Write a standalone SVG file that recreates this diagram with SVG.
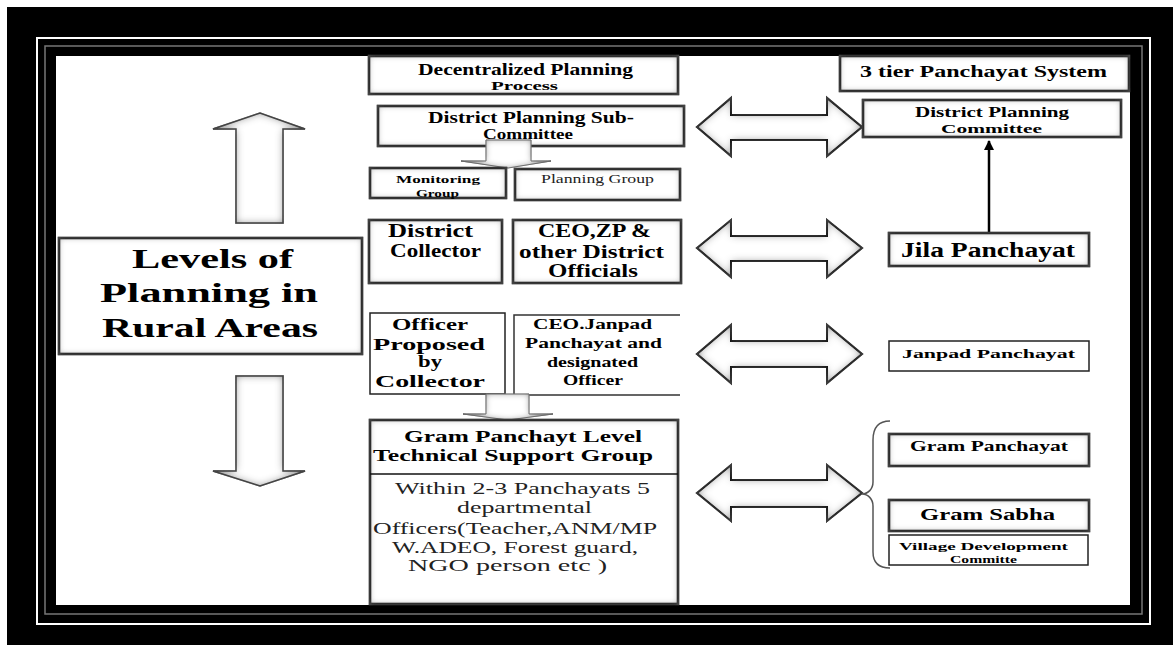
<svg xmlns="http://www.w3.org/2000/svg" width="1173" height="645" viewBox="0 0 1173 645">
<defs>
<style>
.bx{stroke:#000;stroke-width:2.5;fill:#fff;filter:url(#inset)}
.thin{stroke:#222;stroke-width:1.5;fill:#fff}
.t{font-family:"Liberation Serif","Times New Roman",serif;font-weight:bold;fill:#000}
.r{font-weight:normal;fill:#222}
.dbl{fill:#fff;stroke:#000;stroke-width:2;filter:url(#insetA)}
.vert{fill:#fff;stroke:#444;stroke-width:1.5;filter:url(#insetA)}
.sm{fill:#fff;stroke:#777;stroke-width:1;filter:url(#insetS)}
</style>
<filter id="inset" x="-0.1" y="-0.2" width="1.2" height="1.4">
<feFlood flood-color="#555"/>
<feComposite in2="SourceAlpha" operator="out"/>
<feGaussianBlur stdDeviation="3.5"/>
<feComposite in2="SourceAlpha" operator="in" result="glow"/>
<feMerge><feMergeNode in="SourceGraphic"/><feMergeNode in="glow"/></feMerge>
</filter>
<filter id="insetA" x="-0.1" y="-0.2" width="1.2" height="1.4">
<feFlood flood-color="#444"/>
<feComposite in2="SourceAlpha" operator="out"/>
<feGaussianBlur stdDeviation="4.5"/>
<feComposite in2="SourceAlpha" operator="in" result="glow"/>
<feMerge><feMergeNode in="SourceGraphic"/><feMergeNode in="glow"/></feMerge>
</filter>
<filter id="insetS" x="-0.1" y="-0.2" width="1.2" height="1.4">
<feFlood flood-color="#666"/>
<feComposite in2="SourceAlpha" operator="out"/>
<feGaussianBlur stdDeviation="3"/>
<feComposite in2="SourceAlpha" operator="in" result="glow"/>
<feMerge><feMergeNode in="SourceGraphic"/><feMergeNode in="glow"/></feMerge>
</filter>
<marker id="ah" viewBox="0 0 10 10" refX="9" refY="5" markerWidth="4" markerHeight="4" orient="auto">
<path d="M0,0 L10,5 L0,10 z" fill="#000"/>
</marker>
</defs>

<g id="frame">
<rect x="0" y="0" width="1173" height="645" fill="#fff"/>
<rect x="7" y="7" width="1166" height="638" fill="#000"/>
<rect x="37" y="38" width="1113" height="586" fill="none" stroke="#fff" stroke-width="2"/>
<rect x="45" y="46" width="1097" height="568" fill="none" stroke="#777" stroke-width="1.5"/>
<rect x="56" y="56" width="1074" height="549" fill="#fff"/>
</g>

<g id="connectors">
<polygon class="vert" points="236,223 236,129 213,129 260,113 305,129 283,129 283,223"/>
<polygon class="vert" points="236,376 283,376 283,471 305,471 260,486 213,471 236,471"/>
<polygon class="dbl" points="697,127 731,98 731,115 827,115 827,98 862,127 827,156 827,140 731,140 731,156"/>
<polygon class="dbl" points="697,248 731,220 731,236 827,236 827,220 862,248 827,277 827,261 731,261 731,277"/>
<polygon class="dbl" points="697,354 731,325 731,341 827,341 827,325 862,354 827,383 827,367 731,367 731,383"/>
<polygon class="dbl" points="697,493 731,465 731,480 827,480 827,465 862,493 827,521 827,507 731,507 731,521"/>
<line x1="989" y1="233" x2="989" y2="141" stroke="#000" stroke-width="2.5" marker-end="url(#ah)"/>
<path d="M890,421 C878,421 873,428 873,440 L873,482 C873,489 868,494 862,494 C868,494 873,499 873,506 L873,552 C873,562 878,568 890,568" fill="none" stroke="#555" stroke-width="1.5"/>
</g>

<g id="levels">
<rect class="bx" x="59" y="238" width="303" height="116" stroke-width="3"/>
<text class="t" font-size="28" x="132" y="268" textLength="161" lengthAdjust="spacingAndGlyphs">Levels of</text>
<text class="t" font-size="28" x="100" y="302" textLength="218" lengthAdjust="spacingAndGlyphs">Planning  in</text>
<text class="t" font-size="28" x="102" y="337" textLength="216" lengthAdjust="spacingAndGlyphs">Rural Areas</text>
</g>

<g id="decentralized">
<rect class="bx" x="369" y="56" width="309" height="38"/>
<text class="t" font-size="16" x="418" y="75" textLength="215" lengthAdjust="spacingAndGlyphs">Decentralized Planning</text>
<text class="t" font-size="12" x="491" y="90" textLength="67" lengthAdjust="spacingAndGlyphs">Process</text>
</g>

<g id="subcommittee">
<rect class="bx" x="378" y="106" width="306" height="40"/>
<text class="t" font-size="16" x="428" y="123" textLength="206" lengthAdjust="spacingAndGlyphs">District Planning Sub-</text>
<text class="t" font-size="14" x="483" y="139" textLength="90" lengthAdjust="spacingAndGlyphs">Committee</text>
</g>

<g id="arrow-sub">
<polygon class="sm" points="486,140 531,140 531,161 551,161 508,168 461,161 486,161"/>
</g>

<g id="monitoring">
<rect class="bx" x="370" y="168" width="136" height="30"/>
<text class="t" font-size="11" x="396" y="183" textLength="84" lengthAdjust="spacingAndGlyphs">Monitoring</text>
<text class="t" font-size="11" x="416" y="197" textLength="43" lengthAdjust="spacingAndGlyphs">Group</text>
</g>

<g id="planninggroup">
<rect class="bx" x="515" y="169" width="165" height="31"/>
<text class="t r" font-size="12" x="541" y="183" textLength="113" lengthAdjust="spacingAndGlyphs">Planning Group</text>
</g>

<g id="collector">
<rect class="bx" x="369" y="220" width="133" height="63"/>
<text class="t" font-size="18" x="388" y="237" textLength="85" lengthAdjust="spacingAndGlyphs">District</text>
<text class="t" font-size="18" x="390" y="257" textLength="91" lengthAdjust="spacingAndGlyphs">Collector</text>
</g>

<g id="ceozp">
<rect class="bx" x="513" y="220" width="168" height="63"/>
<text class="t" font-size="18" x="538" y="237" textLength="113" lengthAdjust="spacingAndGlyphs">CEO,ZP &amp;</text>
<text class="t" font-size="18" x="519" y="258" textLength="145" lengthAdjust="spacingAndGlyphs">other District</text>
<text class="t" font-size="18" x="548" y="277" textLength="90" lengthAdjust="spacingAndGlyphs">Officials</text>
</g>

<g id="officer">
<rect class="thin" x="370" y="313" width="135" height="81"/>
<text class="t" font-size="16" x="392" y="330" textLength="76" lengthAdjust="spacingAndGlyphs">Officer</text>
<text class="t" font-size="16" x="373" y="350" textLength="112" lengthAdjust="spacingAndGlyphs">Proposed</text>
<text class="t" font-size="16" x="418" y="367" textLength="24" lengthAdjust="spacingAndGlyphs">by</text>
<text class="t" font-size="16" x="375" y="387" textLength="110" lengthAdjust="spacingAndGlyphs">Collector</text>
</g>

<g id="ceojanpad">
<rect x="514" y="315" width="166" height="80" fill="#fff"/>
<path d="M680,315 L514,315 L514,395 L680,395" fill="none" stroke="#333" stroke-width="1.5"/>
<text class="t" font-size="14" x="533" y="329" textLength="119" lengthAdjust="spacingAndGlyphs">CEO.Janpad</text>
<text class="t" font-size="14" x="525" y="348" textLength="137" lengthAdjust="spacingAndGlyphs">Panchayat and</text>
<text class="t" font-size="14" x="547" y="367" textLength="91" lengthAdjust="spacingAndGlyphs">designated</text>
<text class="t" font-size="14" x="563" y="385" textLength="60" lengthAdjust="spacingAndGlyphs">Officer</text>
</g>

<g id="arrow-officer">
<polygon class="sm" points="486,394 529,394 529,414 553,414 508,420 463,414 486,414"/>
</g>

<g id="tsg">
<rect class="bx" x="370" y="420" width="308" height="184"/>
<line x1="370" y1="474" x2="678" y2="474" stroke="#111" stroke-width="1.5"/>
<text class="t" font-size="17" x="404" y="442" textLength="238" lengthAdjust="spacingAndGlyphs">Gram Panchayt Level</text>
<text class="t" font-size="17" x="373" y="461" textLength="280" lengthAdjust="spacingAndGlyphs">Technical Support Group</text>
<text class="t r" font-size="16" x="395" y="494" textLength="255" lengthAdjust="spacingAndGlyphs">Within 2-3 Panchayats  5</text>
<text class="t r" font-size="16" x="457" y="513" textLength="135" lengthAdjust="spacingAndGlyphs">departmental</text>
<text class="t r" font-size="16" x="373" y="534" textLength="284" lengthAdjust="spacingAndGlyphs">Officers(Teacher,ANM/MP</text>
<text class="t r" font-size="16" x="392" y="553" textLength="246" lengthAdjust="spacingAndGlyphs">W.ADEO, Forest guard,</text>
<text class="t r" font-size="16" x="408" y="571" textLength="199" lengthAdjust="spacingAndGlyphs">NGO person etc )</text>
</g>

<g id="threetier">
<rect class="bx" x="840" y="56" width="289" height="35"/>
<text class="t" font-size="17" x="860" y="77" textLength="247" lengthAdjust="spacingAndGlyphs">3 tier Panchayat System</text>
</g>

<g id="dpc">
<rect class="bx" x="863" y="100" width="258" height="37"/>
<text class="t" font-size="14" x="915" y="117" textLength="154" lengthAdjust="spacingAndGlyphs">District Planning</text>
<text class="t" font-size="12" x="941" y="133" textLength="101" lengthAdjust="spacingAndGlyphs">Committee</text>
</g>

<g id="jila">
<rect class="bx" x="889" y="233" width="200" height="33"/>
<text class="t" font-size="20" x="901" y="257" textLength="174" lengthAdjust="spacingAndGlyphs">Jila Panchayat</text>
</g>

<g id="janpad">
<rect class="thin" x="889" y="341" width="200" height="30"/>
<text class="t" font-size="13" x="902" y="358" textLength="173" lengthAdjust="spacingAndGlyphs">Janpad Panchayat</text>
</g>

<g id="grampanchayat">
<rect class="bx" x="889" y="434" width="200" height="32"/>
<text class="t" font-size="15" x="910" y="451" textLength="158" lengthAdjust="spacingAndGlyphs">Gram Panchayat</text>
</g>

<g id="gramsabha">
<rect class="bx" x="889" y="500" width="200" height="31"/>
<text class="t" font-size="17" x="920" y="520" textLength="135" lengthAdjust="spacingAndGlyphs">Gram Sabha</text>
</g>

<g id="village">
<rect class="thin" x="889" y="535" width="199" height="30"/>
<text class="t" font-size="11" x="899" y="550" textLength="169" lengthAdjust="spacingAndGlyphs">Village Development</text>
<text class="t" font-size="11" x="950" y="563" textLength="67" lengthAdjust="spacingAndGlyphs">Committe</text>
</g>
</svg>
